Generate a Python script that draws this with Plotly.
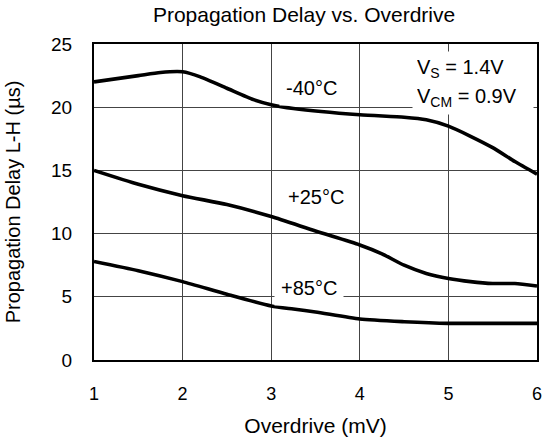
import plotly.graph_objects as go

# ---- data ----
x_m40 = [1, 1.5, 1.75, 2, 2.2, 2.5, 2.8, 3, 3.25, 4, 4.5, 4.75, 5, 5.25, 5.5, 5.75, 6]
y_m40 = [22.0, 22.5, 22.75, 22.8, 22.4, 21.5, 20.6, 20.2, 19.9, 19.4, 19.2, 19.0, 18.5, 17.7, 16.8, 15.7, 14.7]

x_p25 = [1, 1.5, 2, 2.5, 3, 3.5, 4, 4.25, 4.5, 4.75, 5, 5.25, 5.5, 5.75, 6]
y_p25 = [15.0, 13.9, 13.0, 12.3, 11.35, 10.2, 9.1, 8.4, 7.5, 6.85, 6.45, 6.2, 6.05, 6.05, 5.85]

x_p85 = [1, 1.5, 2, 2.5, 3, 3.25, 3.5, 4, 4.5, 5, 5.5, 6]
y_p85 = [7.8, 7.07, 6.2, 5.2, 4.27, 4.03, 3.8, 3.24, 3.03, 2.9, 2.9, 2.9]

x_ticks = [1, 2, 3, 4, 5, 6]
y_ticks = [0, 5, 10, 15, 20, 25]

labels = ["-40\u00b0C", "+25\u00b0C", "+85\u00b0C"]
label_x = [3.45, 3.5, 3.43]
label_y = [21.5, 12.9, 5.67]

FONT = "Liberation Sans, Arial, sans-serif"

fig = go.Figure()
for xs, ys in [(x_m40, y_m40), (x_p25, y_p25), (x_p85, y_p85)]:
    fig.add_trace(go.Scatter(x=xs, y=ys, mode="lines",
                             line=dict(color="black", width=3.6, shape="spline", smoothing=0.6),
                             showlegend=False, hoverinfo="skip"))

annotations = []
for t, ax_, ay_ in zip(labels, label_x, label_y):
    annotations.append(dict(x=ax_, y=ay_, xref="x", yref="y", text=t, showarrow=False,
                            font=dict(family=FONT, size=20, color="black"),
                            bgcolor="white", borderpad=6))

annotations.append(dict(x=4.59, y=23.1, xref="x", yref="y", xanchor="left", align="left",
                        text="V<sub>S</sub> = 1.4V", showarrow=False, width=112,
                        font=dict(family=FONT, size=20, color="black"),
                        bgcolor="white", borderpad=4))
annotations.append(dict(x=4.59, y=20.73, xref="x", yref="y", xanchor="left", align="left",
                        text="V<sub>CM</sub> = 0.9V", showarrow=False, width=112,
                        font=dict(family=FONT, size=20, color="black"),
                        bgcolor="white", borderpad=4))

fig.update_layout(
    width=542, height=445,
    margin=dict(l=94, r=5, t=44, b=85, autoexpand=False),
    paper_bgcolor="white", plot_bgcolor="white",
    font=dict(family=FONT, color="black"),
    hovermode=False,
    title=dict(text="Propagation Delay vs. Overdrive", x=0.561, xref="container",
               xanchor="center", y=0.966, yref="container", yanchor="middle",
               automargin=False,
               font=dict(family=FONT, size=21, color="black")),
    annotations=annotations,
    xaxis=dict(range=[1, 6], tickvals=x_ticks, ticktext=[str(v) for v in x_ticks],
               showgrid=True, gridcolor="#444", gridwidth=1,
               showline=True, mirror=True, linecolor="black", linewidth=2,
               ticks="", ticklabelstandoff=16, zeroline=False, automargin=False,
               ticklabeloverflow="allow",
               tickfont=dict(family=FONT, size=18, color="black"),
               title=dict(text="Overdrive (mV)", standoff=16,
                          font=dict(family=FONT, size=21, color="black"))),
    yaxis=dict(range=[0, 25], tickvals=y_ticks, ticktext=[str(v) for v in y_ticks],
               showgrid=True, gridcolor="#444", gridwidth=1,
               showline=True, mirror=True, linecolor="black", linewidth=2,
               ticks="", ticklabelstandoff=16, zeroline=False, automargin=False,
               tickfont=dict(family=FONT, size=19, color="black"),
               title=dict(text="Propagation Delay L-H (\u00b5s)", standoff=25,
                          font=dict(family=FONT, size=20, color="black"))),
)

fig.write_html("out.html", config={"displayModeBar": False, "staticPlot": True},
               post_script="document.body.style.margin='0';")
